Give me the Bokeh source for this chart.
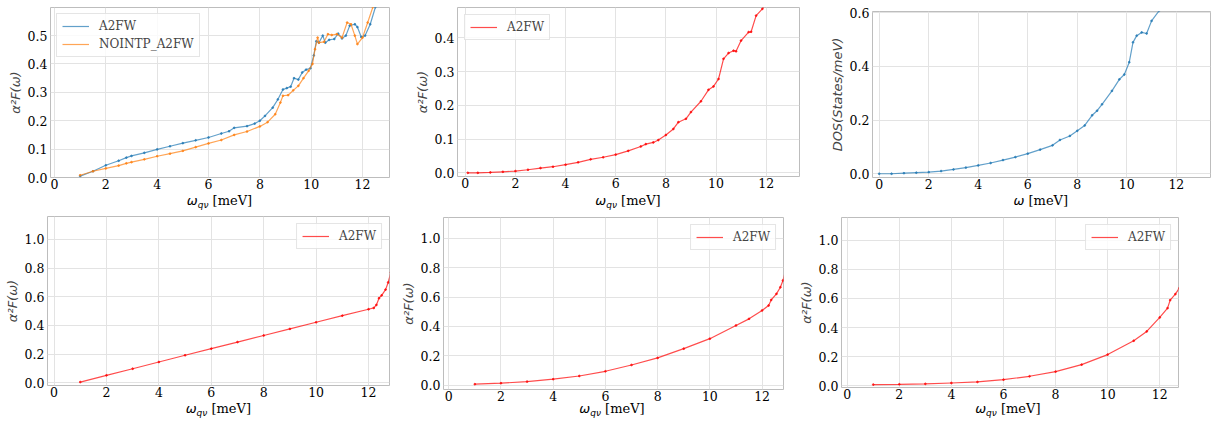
from bokeh.plotting import figure
from bokeh.layouts import row, column
from bokeh.models import FixedTicker, PrintfTickFormatter, Range1d, Div
from bokeh.embed import file_html
from bokeh.resources import INLINE

# ---------------- data ----------------
x_ticks = [0, 2, 4, 6, 8, 10, 12]
p1_yticks = [0.0, 0.1, 0.2, 0.3, 0.4, 0.5]
p2_yticks = [0.0, 0.1, 0.2, 0.3, 0.4]
p3_yticks = [0.0, 0.2, 0.4, 0.6]
bot_yticks = [0.0, 0.2, 0.4, 0.6, 0.8, 1.0]

# panel 1: A2FW (interpolated) vs NOINTP_A2FW
p1_a2fw_x = [1.0, 1.5, 2.0, 2.5, 2.8, 3.0, 3.5, 4.0, 4.5, 5.0, 5.5, 6.0, 6.5, 6.8, 7.0,
             7.5, 7.8, 8.0, 8.2, 8.5, 8.7, 8.9, 9.05, 9.2, 9.33, 9.5, 9.65, 9.8, 9.97,
             10.1, 10.2, 10.3, 10.45, 10.55, 10.7, 10.9, 11.05, 11.2, 11.35, 11.5, 11.7,
             11.8, 11.95, 12.1, 12.3, 12.5, 12.6]
p1_a2fw_y = [0.005, 0.022, 0.043, 0.059, 0.070, 0.076, 0.087, 0.099, 0.110, 0.121, 0.131,
             0.141, 0.155, 0.163, 0.175, 0.181, 0.190, 0.200, 0.217, 0.246, 0.275, 0.310,
             0.315, 0.320, 0.350, 0.345, 0.370, 0.380, 0.385, 0.430, 0.480, 0.475, 0.500,
             0.475, 0.485, 0.488, 0.507, 0.490, 0.500, 0.535, 0.540, 0.530, 0.495, 0.500,
             0.540, 0.600, 0.620]
p1_noint_x = [1.0, 1.5, 2.0, 2.5, 2.8, 3.0, 3.5, 4.0, 4.5, 5.0, 5.5, 6.0, 6.5, 7.0, 7.5,
              8.0, 8.3, 8.6, 8.8, 8.9, 9.1, 9.3, 9.5, 9.7, 9.9, 10.05, 10.15, 10.25, 10.3,
              10.5, 10.65, 10.8, 11.0, 11.2, 11.4, 11.55, 11.7, 11.8, 12.0, 12.2, 12.4, 12.5]
p1_noint_y = [0.008, 0.022, 0.032, 0.042, 0.050, 0.054, 0.064, 0.075, 0.084, 0.094, 0.107,
              0.120, 0.132, 0.150, 0.162, 0.180, 0.195, 0.223, 0.264, 0.288, 0.290, 0.307,
              0.323, 0.350, 0.376, 0.400, 0.452, 0.493, 0.475, 0.478, 0.505, 0.502, 0.505,
              0.493, 0.546, 0.540, 0.500, 0.470, 0.493, 0.546, 0.600, 0.620]

# panel 2: A2FW
p2_x = [0.1, 0.5, 1.0, 1.5, 2.0, 2.5, 3.0, 3.5, 4.0, 4.5, 5.0, 5.5, 6.0, 6.5, 7.0, 7.2,
        7.5, 7.7, 8.0, 8.3, 8.5, 8.8, 9.0, 9.4, 9.7, 9.9, 10.1, 10.3, 10.5, 10.7, 10.8,
        11.0, 11.3, 11.4, 11.6, 11.85, 11.95]
p2_y = [0.000, 0.000, 0.001, 0.003, 0.005, 0.009, 0.014, 0.018, 0.024, 0.031, 0.040,
        0.046, 0.054, 0.065, 0.078, 0.085, 0.090, 0.097, 0.112, 0.130, 0.150, 0.160,
        0.180, 0.212, 0.246, 0.256, 0.278, 0.338, 0.355, 0.362, 0.360, 0.392, 0.417,
        0.418, 0.466, 0.486, 0.500]

# panel 3: DOS
p3_x = [0.0, 0.5, 1.0, 1.5, 2.0, 2.5, 3.0, 3.5, 4.0, 4.5, 5.0, 5.5, 6.0, 6.5, 7.0, 7.3,
        7.7, 8.0, 8.3, 8.6, 8.8, 9.0, 9.4, 9.7, 9.9, 10.1, 10.25, 10.4, 10.6, 10.8, 11.0,
        11.3]
p3_y = [0.000, 0.000, 0.002, 0.004, 0.006, 0.010, 0.016, 0.023, 0.031, 0.040, 0.051,
        0.062, 0.075, 0.090, 0.106, 0.126, 0.141, 0.160, 0.180, 0.218, 0.235, 0.259,
        0.309, 0.352, 0.370, 0.416, 0.490, 0.515, 0.527, 0.523, 0.570, 0.607]

# panel 4
p4_x = [1.0, 2.0, 3.0, 4.0, 5.0, 6.0, 7.0, 8.0, 9.0, 10.0, 11.0, 12.0, 12.2, 12.3, 12.4,
        12.5, 12.65, 12.75, 12.85]
p4_y = [0.005, 0.052, 0.098, 0.145, 0.192, 0.238, 0.284, 0.330, 0.376, 0.422, 0.468,
        0.513, 0.522, 0.543, 0.590, 0.610, 0.650, 0.700, 0.770]

# panel 5
p5_x = [1.0, 2.0, 3.0, 4.0, 5.0, 6.0, 7.0, 8.0, 9.0, 10.0, 11.0, 11.5, 12.0, 12.25, 12.35,
        12.55, 12.7, 12.8, 12.9]
p5_y = [0.007, 0.014, 0.025, 0.041, 0.063, 0.095, 0.138, 0.186, 0.249, 0.317, 0.407,
        0.452, 0.509, 0.543, 0.581, 0.622, 0.667, 0.713, 0.780]

# panel 6
p6_x = [1.0, 2.0, 3.0, 4.0, 5.0, 6.0, 7.0, 8.0, 9.0, 10.0, 11.0, 11.5, 12.0, 12.3, 12.4,
        12.6, 12.75]
p6_y = [0.009, 0.011, 0.014, 0.020, 0.027, 0.043, 0.066, 0.098, 0.146, 0.215, 0.310,
        0.374, 0.470, 0.534, 0.589, 0.630, 0.671]

BLUE = "#1f77b4"
ORANGE = "#ff7f0e"
RED = "#ff0000"

SERIF = "'DejaVu Serif', 'Liberation Serif', serif"
SANS = "DejaVu Sans"


def make_fig(w, h, mbl, mbr, mbt, mbb, xr, yr, yticks, ylabel):
    p = figure(width=w, height=h, output_backend="svg", toolbar_location=None,
               x_range=Range1d(*xr), y_range=Range1d(*yr),
               min_border_left=mbl, min_border_right=mbr,
               min_border_top=mbt, min_border_bottom=mbb)
    p.background_fill_color = "white"
    p.border_fill_color = "white"
    p.outline_line_color = "#bdbdbd"
    p.outline_line_width = 1
    for ax in (p.xaxis[0], p.yaxis[0]):
        ax.axis_line_color = None
        ax.major_tick_line_color = None
        ax.minor_tick_line_color = None
        ax.major_tick_out = 0
        ax.major_tick_in = 0
        ax.minor_tick_out = 0
        ax.major_label_text_font = SERIF
        ax.major_label_text_font_size = "12.5px"
        ax.major_label_text_color = "black"
    p.xaxis[0].ticker = FixedTicker(ticks=x_ticks)
    p.xaxis[0].major_label_standoff = 1
    p.xaxis[0].axis_label = None
    p.yaxis[0].ticker = FixedTicker(ticks=yticks)
    p.yaxis[0].formatter = PrintfTickFormatter(format="%.1f")
    p.yaxis[0].major_label_standoff = 3
    p.yaxis[0].axis_label = ylabel
    p.yaxis[0].axis_label_text_font = SANS
    p.yaxis[0].axis_label_text_font_style = "italic"
    p.yaxis[0].axis_label_text_font_size = "13px"
    p.yaxis[0].axis_label_standoff = 2
    p.xgrid[0].grid_line_color = "#e3e3e3"
    p.ygrid[0].grid_line_color = "#e3e3e3"
    p.xgrid[0].grid_line_width = 1
    p.ygrid[0].grid_line_width = 1
    return p


def add_series(p, xs, ys, color, label=None):
    if label:
        p.line(xs, ys, line_color=color, line_alpha=0.7, line_width=1.2, legend_label=label)
    else:
        p.line(xs, ys, line_color=color, line_alpha=0.7, line_width=1.2)
    p.scatter(xs, ys, size=1.8, fill_color=color, line_color=color, fill_alpha=0.7,
              line_alpha=0.7)


def style_legend(p, loc, margin):
    lg = p.legend[0]
    lg.location = loc
    lg.margin = margin
    lg.padding = 5
    lg.spacing = 4
    lg.glyph_width = 27
    lg.glyph_height = 14
    lg.label_height = 14
    lg.label_standoff = 10
    lg.label_text_font = SERIF
    lg.label_text_font_size = "12px"
    lg.label_text_baseline = "middle"
    lg.border_line_color = "#cccccc"
    lg.border_line_width = 1
    lg.background_fill_color = "white"
    lg.background_fill_alpha = 0.8


def xlabel_div(w, h, cx, top, sub=True):
    """x-axis label: italic omega (with q-nu subscript) followed by [meV] in serif"""
    subtxt = ("<span style=\"font-size:9px;position:relative;top:3px;\">qν</span>"
              if sub else "")
    html = (
        f"<div style=\"position:relative;width:{w}px;height:{h}px;overflow:visible;\">"
        f"<span style=\"position:absolute;left:{cx}px;top:{top}px;"
        "transform:translateX(-50%);white-space:nowrap;line-height:15px;font-size:13px;"
        "color:#000;\">"
        f"<span style=\"font-family:'DejaVu Sans';font-style:italic;\">ω{subtxt}</span>"
        f"<span style=\"font-family:{SERIF};\"> [meV]</span>"
        "</span></div>"
    )
    return Div(text=html, width=w, height=h, margin=0,
               styles={"overflow": "visible", "padding": "0px"})


AF = "α²F(ω)"

# top row (page y 0..210); figures end at page y 193, label strip below
xr1, yr1 = (-0.155, 13.05), (0.0, 0.599)
p1 = make_fig(410, 193, 50, 21, 7, 16, xr1, yr1, p1_yticks, AF)
add_series(p1, p1_a2fw_x, p1_a2fw_y, BLUE, "A2FW")
add_series(p1, p1_noint_x, p1_noint_y, ORANGE, "NOINTP_A2FW")
style_legend(p1, "top_left", 6)
d1 = xlabel_div(410, 17, 219.5, 0)

xr2, yr2 = (-0.31, 13.33), (-0.011, 0.49)
p2 = make_fig(410, 193, 47, 21, 7, 17, xr2, yr2, p2_yticks, AF)
add_series(p2, p2_x, p2_y, RED, "A2FW")
style_legend(p2, "top_left", 7)
d2 = xlabel_div(410, 17, 218, 0)

xr3, yr3 = (-0.27, 13.38), (-0.014, 0.605)
p3 = make_fig(393, 193, 52, 3, 11, 16, xr3, yr3, p3_yticks, "DOS(States/meV)")
add_series(p3, p3_x, p3_y, BLUE)
d3 = xlabel_div(393, 17, 220.8, 0, sub=False)

# bottom row (page y 210..424)
xr4, yr4 = (-0.25, 12.8), (-0.019, 1.16)
p4 = make_fig(397, 191, 47, 8, 6, 16, xr4, yr4, bot_yticks, AF)
add_series(p4, p4_x, p4_y, RED, "A2FW")
style_legend(p4, "top_right", 7)
d4 = xlabel_div(397, 23, 218.3, 0)

xr5, yr5 = (-0.2, 12.82), (-0.029, 1.142)
p5 = make_fig(398, 195, 44, 12, 7, 16, xr5, yr5, bot_yticks, AF)
add_series(p5, p5_x, p5_y, RED, "A2FW")
style_legend(p5, "top_right", 7)
d5 = xlabel_div(398, 19, 215, -4)

xr6, yr6 = (-0.22, 12.72), (-0.011, 1.156)
p6 = make_fig(418, 193, 42, 35, 7, 16, xr6, yr6, bot_yticks, AF)
add_series(p6, p6_x, p6_y, RED, "A2FW")
style_legend(p6, "top_right", 7)
d6 = xlabel_div(418, 21, 212.8, -2)

top_row = row(column(p1, d1, spacing=0), column(p2, d2, spacing=0),
              column(p3, d3, spacing=0), spacing=0)
bottom_row = row(column(p4, d4, spacing=0), column(p5, d5, spacing=0),
                 column(p6, d6, spacing=0), spacing=0)
layout = column(top_row, bottom_row, spacing=0)

open("out.html", "w").write(file_html(layout, INLINE))
